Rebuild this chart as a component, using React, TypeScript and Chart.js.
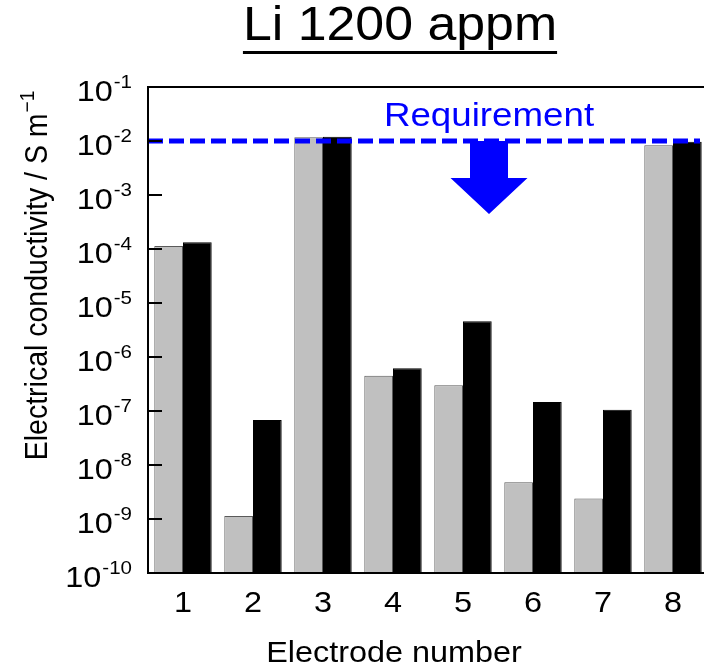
import React, { useEffect, useRef } from "react";
import { Chart, registerables } from "chart.js";
Chart.register(...registerables);

const categories = ["1", "2", "3", "4", "5", "6", "7", "8"];
const seriesGray = [1.14e-4, 1.14e-9, 1.17e-2, 4.5e-7, 3.0e-7, 4.8e-9, 2.4e-9, 8.3e-3];
const seriesBlack = [1.33e-4, 6.8e-8, 1.2e-2, 6.2e-7, 4.6e-6, 1.47e-7, 1.05e-7, 9.7e-3];
const yTickExponents = [-1, -2, -3, -4, -5, -6, -7, -8, -9, -10];
const requirementValue = [1e-2];
const titleText = "Li 1200 appm";
const yTitleMain = "Electrical conductivity / S m";
const yTitleSup = "\u22121";
const xTitleText = "Electrode number";
const requirementLabel = "Requirement";

const FONT = '"Liberation Sans", Arial, Helvetica, sans-serif';
const SX = 1.08;

function drawText(
  ctx: CanvasRenderingContext2D,
  text: string,
  x: number,
  y: number,
  size: number,
  align: CanvasTextAlign,
  baseline: CanvasTextBaseline,
  color: string
) {
  ctx.save();
  ctx.translate(x, y);
  ctx.scale(SX, 1);
  ctx.font = `${size}px ${FONT}`;
  ctx.textAlign = align;
  ctx.textBaseline = baseline;
  ctx.fillStyle = color;
  ctx.fillText(text, 0, 0);
  ctx.restore();
}

function textW(ctx: CanvasRenderingContext2D, text: string, size: number) {
  ctx.save();
  ctx.font = `${size}px ${FONT}`;
  const w = ctx.measureText(text).width * SX;
  ctx.restore();
  return w;
}

const decorPlugin = {
  id: "decor",
  afterDraw(chart: any) {
    const ctx: CanvasRenderingContext2D = chart.ctx;
    const { left, right, top, bottom } = chart.chartArea;
    const ys = chart.scales.y;
    const xs = chart.scales.x;

    // Requirement dashed line
    const ry = ys.getPixelForValue(requirementValue[0]);
    ctx.save();
    ctx.strokeStyle = "#0000ff";
    ctx.lineWidth = 5;
    ctx.setLineDash([15, 6]);
    ctx.beginPath();
    ctx.moveTo(left, ry);
    ctx.lineTo(right - 8, ry);
    ctx.stroke();
    ctx.restore();

    // Arrow
    const ax = left + 341;
    ctx.save();
    ctx.fillStyle = "#0000ff";
    ctx.beginPath();
    ctx.moveTo(ax - 19, ry);
    ctx.lineTo(ax + 19, ry);
    ctx.lineTo(ax + 19, ry + 37);
    ctx.lineTo(ax + 38.5, ry + 37);
    ctx.lineTo(ax, ry + 73);
    ctx.lineTo(ax - 38.5, ry + 37);
    ctx.lineTo(ax - 19, ry + 37);
    ctx.closePath();
    ctx.fill();
    ctx.restore();
    drawText(ctx, requirementLabel, ax, ry - 15, 34, "center", "alphabetic", "#0000ff");

    // Frame
    ctx.save();
    ctx.strokeStyle = "#000";
    ctx.lineWidth = 2;
    ctx.strokeRect(left, top, right - left, bottom - top);
    for (const e of yTickExponents) {
      const y = ys.getPixelForValue(Math.pow(10, e));
      ctx.beginPath();
      ctx.moveTo(left, y);
      ctx.lineTo(left + 14, y);
      ctx.stroke();
    }
    ctx.restore();

    // Y tick labels
    const xr = left - 16;
    for (const e of yTickExponents) {
      const y = ys.getPixelForValue(Math.pow(10, e));
      const exp = "-" + Math.abs(e);
      const ew = textW(ctx, exp, 19);
      drawText(ctx, exp, xr, y + 1, 19, "right", "alphabetic", "#000");
      drawText(ctx, "10", xr - ew - 1, y + 14, 30, "right", "alphabetic", "#000");
    }

    // X tick labels
    categories.forEach((c, i) => {
      const x = xs.getPixelForValue(i);
      drawText(ctx, c, x, bottom + 39, 30, "center", "alphabetic", "#000");
    });

    // X title
    drawText(ctx, xTitleText, left + 246, bottom + 89, 30, "center", "alphabetic", "#000");

    // Title with underline
    const tx = left + 252;
    const tw = textW(ctx, titleText, 48);
    drawText(ctx, titleText, tx, 40, 48, "center", "alphabetic", "#000");
    ctx.save();
    ctx.fillStyle = "#000";
    ctx.fillRect(tx - tw / 2, 51, tw, 3);
    ctx.restore();

    // Y title (rotated)
    ctx.save();
    ctx.translate(47, (top + bottom) / 2 - 54);
    ctx.scale(SX, 1);
    ctx.rotate(-Math.PI / 2);
    ctx.fillStyle = "#000";
    ctx.textBaseline = "alphabetic";
    ctx.textAlign = "left";
    ctx.font = `28.5px ${FONT}`;
    const mw = ctx.measureText(yTitleMain).width;
    ctx.font = `19px ${FONT}`;
    const sw = ctx.measureText(yTitleSup).width;
    const start = -(mw + sw) / 2;
    ctx.font = `28.5px ${FONT}`;
    ctx.fillText(yTitleMain, start, 0);
    ctx.font = `19px ${FONT}`;
    ctx.fillText(yTitleSup, start + mw + 1, -12);
    ctx.restore();
  },
};

export default function App() {
  const ref = useRef<HTMLCanvasElement | null>(null);
  useEffect(() => {
    if (!ref.current) return;
    const chart = new Chart(ref.current, {
      type: "bar",
      data: {
        labels: categories,
        datasets: [
          {
            label: "A",
            data: seriesGray,
            backgroundColor: "#c0c0c0",
            borderColor: "#5a5a5a",
            borderWidth: 1,
            barPercentage: 1,
            categoryPercentage: 0.82,
          },
          {
            label: "B",
            data: seriesBlack,
            backgroundColor: "#000000",
            borderColor: "#000000",
            borderWidth: 1,
            barPercentage: 1,
            categoryPercentage: 0.82,
          },
        ],
      },
      options: {
        responsive: false,
        animation: false,
        events: [],
        layout: { padding: { left: 148, right: 12, top: 87, bottom: 97 } },
        plugins: { legend: { display: false }, tooltip: { enabled: false }, title: { display: false } },
        scales: {
          x: { display: false, offset: true },
          y: { type: "logarithmic", display: false, min: 1e-10, max: 1e-1 },
        },
      },
      plugins: [decorPlugin],
    });
    return () => chart.destroy();
  }, []);
  return (
    <div style={{ position: "fixed", left: 0, top: 0, width: 704, height: 670, overflow: "hidden", background: "#fff" }}>
      <canvas ref={ref} width={720} height={670} style={{ display: "block" }} />
    </div>
  );
}
